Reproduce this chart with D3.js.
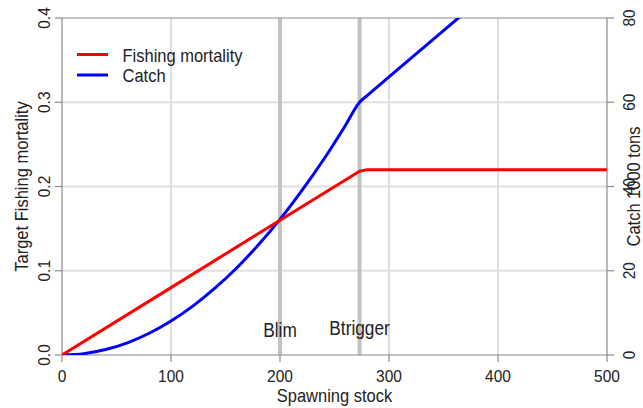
<!DOCTYPE html>
<html>
<head>
<meta charset="utf-8">
<script src="https://cdn.jsdelivr.net/npm/d3@7"></script>
<style>
  html, body { margin: 0; padding: 0; background: #fff; }
  svg text { font-family: "Liberation Sans", Arial, sans-serif; fill: #222; }
</style>
</head>
<body>
<svg id="chart" width="643" height="408"></svg>
<script>
// ── data ──
const ssbF      = [0, 100, 200, 273, 280, 300, 400, 500];
const fishingF  = [0, 0.08, 0.16, 0.218, 0.22, 0.22, 0.22, 0.22];
const ssbC      = [0, 20, 40, 60, 80, 100, 120, 140, 160, 180, 200, 220, 240, 260, 273, 280, 300, 400, 500];
const catchKt   = [0, 0.32, 1.29, 2.9, 5.16, 8.06, 11.6, 15.8, 20.6, 26.1, 32.2, 39, 46.4, 54.5, 60, 61.6, 66, 88, 110];
const refPoints = [{ name: 'Blim', x: 200, base: 337 }, { name: 'Btrigger', x: 273, base: 335 }];
const xTicks    = [0, 100, 200, 300, 400, 500];
const fTicks    = [0, 0.1, 0.2, 0.3, 0.4];
const cTicks    = [0, 20, 40, 60, 80];
const legendItems = [{ label: 'Fishing mortality', color: '#ff0000' }, { label: 'Catch', color: '#0000ff' }];

const W = 643, H = 408;
const m = { left: 62, right: 36, top: 18, bottom: 53 };
const x  = d3.scaleLinear().domain([0, 500]).range([m.left, W - m.right]);
const yF = d3.scaleLinear().domain([0, 0.4]).range([H - m.bottom, m.top]);
const yC = d3.scaleLinear().domain([0, 80]).range([H - m.bottom, m.top]);

const svg = d3.select('#chart');
const axisCol = '#8a8a8a';
const tall = 'scale(1,1.12)';   // the reference font is a bit taller than Arial

svg.append('defs').append('clipPath').attr('id', 'plot-clip')
  .append('rect').attr('x', m.left).attr('y', m.top)
  .attr('width', x(500) - m.left).attr('height', yF(0) - m.top);

// grid
svg.append('g').selectAll('line').data([100, 200, 300, 400]).join('line')
  .attr('x1', d => x(d)).attr('x2', d => x(d))
  .attr('y1', m.top).attr('y2', yF(0))
  .attr('stroke', '#d4d4d4').attr('stroke-width', 1.5);
svg.append('g').selectAll('line').data([0.1, 0.2, 0.3]).join('line')
  .attr('x1', m.left).attr('x2', x(500))
  .attr('y1', d => yF(d)).attr('y2', d => yF(d))
  .attr('stroke', '#e0e0e0').attr('stroke-width', 2);

// reference lines
svg.append('g').selectAll('line').data(refPoints).join('line')
  .attr('x1', d => x(d.x)).attr('x2', d => x(d.x))
  .attr('y1', m.top).attr('y2', yF(0))
  .attr('stroke', '#c2c2c2').attr('stroke-width', 4);

// frame lines (top / bottom / left / right)
const frame = svg.append('g').attr('stroke', axisCol).attr('stroke-width', 1.2);
frame.append('line').attr('x1', m.left).attr('x2', x(500)).attr('y1', yF(0.4)).attr('y2', yF(0.4));
frame.append('line').attr('x1', m.left).attr('x2', x(500)).attr('y1', yF(0)).attr('y2', yF(0));
frame.append('line').attr('x1', m.left).attr('x2', m.left).attr('y1', m.top).attr('y2', yF(0));
frame.append('line').attr('x1', x(500)).attr('x2', x(500)).attr('y1', m.top).attr('y2', yF(0));

// ticks
frame.append('g').selectAll('line').data(xTicks).join('line')
  .attr('x1', d => x(d)).attr('x2', d => x(d)).attr('y1', yF(0)).attr('y2', yF(0) + 7);
frame.append('g').selectAll('line').data(fTicks).join('line')
  .attr('x1', m.left - 7).attr('x2', m.left).attr('y1', d => yF(d)).attr('y2', d => yF(d));
frame.append('g').selectAll('line').data(cTicks).join('line')
  .attr('x1', x(500)).attr('x2', x(500) + 7).attr('y1', d => yC(d)).attr('y2', d => yC(d));

// tick labels
svg.append('g').selectAll('text').data(xTicks).join('text')
  .attr('transform', d => `translate(${x(d)},382) ${tall}`)
  .attr('text-anchor', 'middle').attr('font-size', 15.5)
  .text(d => d);
svg.append('g').selectAll('text').data(fTicks).join('text')
  .attr('transform', d => `translate(50,${yF(d)}) rotate(-90) ${tall}`)
  .attr('text-anchor', 'middle').attr('font-size', 15.5)
  .text(d => d3.format('.1f')(d));
svg.append('g').selectAll('text').data(cTicks).join('text')
  .attr('transform', d => `translate(635,${yC(d)}) rotate(-90) ${tall}`)
  .attr('text-anchor', 'middle').attr('font-size', 15.5)
  .text(d => d);

// axis titles
svg.append('text').attr('transform', `translate(${(m.left + x(500)) / 2},402) ${tall}`)
  .attr('text-anchor', 'middle').attr('font-size', 16.5).text('Spawning stock');
svg.append('text').attr('transform', `translate(28,${(m.top + yF(0)) / 2}) rotate(-90) ${tall}`)
  .attr('text-anchor', 'middle').attr('font-size', 16.5).text('Target Fishing mortality');
svg.append('text').attr('transform', `translate(639.5,${(m.top + yF(0)) / 2}) rotate(-90) ${tall}`)
  .attr('text-anchor', 'middle').attr('font-size', 16.5).text('Catch 1000 tons');

// series
const plot = svg.append('g').attr('clip-path', 'url(#plot-clip)');
const fPts = ssbF.map((s, i) => [s, fishingF[i]]);
const cPts = ssbC.map((s, i) => [s, catchKt[i]]);
plot.append('path').datum(cPts)
  .attr('fill', 'none').attr('stroke', '#0000ff').attr('stroke-width', 3)
  .attr('stroke-linejoin', 'round')
  .attr('d', d3.line().x(d => x(d[0])).y(d => yC(d[1])).curve(d3.curveMonotoneX));
plot.append('path').datum(fPts)
  .attr('fill', 'none').attr('stroke', '#ff0000').attr('stroke-width', 3)
  .attr('stroke-linejoin', 'round')
  .attr('d', d3.line().x(d => x(d[0])).y(d => yF(d[1])));

// reference labels
svg.append('g').selectAll('text').data(refPoints).join('text')
  .attr('transform', d => `translate(${x(d.x)},${d.base}) ${tall}`)
  .attr('text-anchor', 'middle').attr('font-size', 17.3)
  .text(d => d.name);

// legend
const lg = svg.append('g').selectAll('g').data(legendItems).join('g')
  .attr('transform', (d, i) => `translate(77,${54.5 + i * 20.5})`);
lg.append('line').attr('x1', 0).attr('x2', 31)
  .attr('stroke', d => d.color).attr('stroke-width', 3);
lg.append('text').attr('transform', `translate(45.5,7.3) ${tall}`).attr('font-size', 16.5)
  .text(d => d.label);
</script>
</body>
</html>
